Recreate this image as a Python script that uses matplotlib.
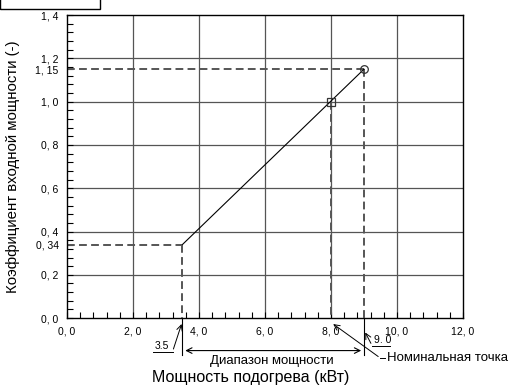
import matplotlib.pyplot as plt
import matplotlib.patches as mpatches
import numpy as np

plt.rcParams['font.family'] = ['Liberation Sans', 'DejaVu Sans']

# data
line_x = [3.5, 9.0]
line_y = [0.34, 1.15]
rated_x, rated_y = 8.0, 1.0
range_min, range_max = 3.5, 9.0

xticks = [0.0, 2.0, 4.0, 6.0, 8.0, 10.0, 12.0]
xtick_labels = ['0, 0', '2, 0', '4, 0', '6, 0', '8, 0', '10, 0', '12, 0']
yticks = [0.0, 0.2, 0.34, 0.4, 0.6, 0.8, 1.0, 1.15, 1.2, 1.4]
ytick_labels = ['0, 0', '0, 2', '0, 34', '0, 4', '0, 6', '0, 8', '1, 0', '1, 15', '1, 2', '1, 4']
grid_x = [2.0, 4.0, 6.0, 8.0, 10.0]
grid_y = [0.2, 0.4, 0.6, 0.8, 1.0, 1.2]

fig = plt.figure(figsize=(5.11, 3.87), dpi=100)
ax = fig.add_axes([0.131, 0.178, 0.775, 0.783])
ax.set_xlim(0, 12)
ax.set_ylim(0, 1.4)

gridc = '#555555'
for gx in grid_x:
    ax.axvline(gx, color=gridc, lw=0.9, zorder=1)
for gy in grid_y:
    ax.axhline(gy, color=gridc, lw=0.9, zorder=1)

dashc = '#555555'
dash = dict(color=dashc, lw=1.4, dashes=(4, 2.2), zorder=2)
# dimension guides
ax.plot([0, line_x[0]], [line_y[0], line_y[0]], **dash)
ax.plot([line_x[0], line_x[0]], [line_y[0], 0], **dash)
ax.plot([0, line_x[1]], [line_y[1], line_y[1]], **dash)
ax.plot([line_x[1], line_x[1]], [line_y[1], 0], **dash)
ax.plot([rated_x, rated_x], [rated_y, 0], **dash)

ax.plot(line_x, line_y, color='black', lw=0.8, zorder=3)
ax.plot([rated_x], [rated_y], marker='s', ms=6, mfc='none', mec='#333333', mew=0.9, zorder=4)
ax.plot([line_x[1]], [line_y[1]], marker='o', ms=5.5, mfc='none', mec='#333333', mew=0.9, zorder=4)

narrow = ['Liberation Sans Narrow', 'Liberation Sans']
ax.set_xticks(xticks)
ax.set_xticklabels(xtick_labels)
ax.set_yticks(yticks)
ax.set_yticklabels(ytick_labels)
ax.set_xticks(np.arange(0, 12.01, 0.4), minor=True)
ax.set_yticks(np.arange(0, 1.401, 0.04), minor=True)
ax.tick_params(which='both', direction='in', color='black', width=0.8)
ax.tick_params(which='major', length=4, labelsize=7.5, pad=6)
ax.tick_params(which='minor', length=4)
for lab in ax.get_xticklabels() + ax.get_yticklabels():
    lab.set_family(narrow)
for s in ax.spines.values():
    s.set_linewidth(1.0)

ax.set_xlabel('Мощность подогрева (кВт)', fontsize=11.5)
ax.xaxis.set_label_coords(0.465, -0.172)
ax.set_ylabel('Коэффициент входной мощности (-)', fontsize=10.8)
ax.yaxis.set_label_coords(-0.119, 0.5)

# range dimension below the axis
ext = dict(color='black', lw=0.8, clip_on=False)
ax.plot([range_min, range_min], [0, -0.17], **ext)
ax.plot([range_max, range_max], [0, -0.17], **ext)
ax.annotate('', xy=(range_min, -0.15), xytext=(range_max, -0.15),
            arrowprops=dict(arrowstyle='<->', lw=0.8, color='black'),
            annotation_clip=False)
ax.text((range_min + range_max) / 2 - 0.05, -0.2, 'Диапазон мощности',
        ha='center', va='center', fontsize=9.5, clip_on=False)

# 3.5 label with leader
ax.annotate('', xy=(range_min, -0.015), xytext=(3.2, -0.155),
            arrowprops=dict(arrowstyle='->', lw=0.7, color='black'),
            annotation_clip=False)
ax.text(2.65, -0.15, '3.5', fontsize=7.5, ha='left', va='bottom', family=narrow)
ax.plot([2.6, 3.2], [-0.157, -0.157], color='black', lw=0.7, clip_on=False)

# 9.0 label with leader
ax.annotate('', xy=(range_max, -0.055), xytext=(9.25, -0.128),
            arrowprops=dict(arrowstyle='->', lw=0.7, color='black'),
            annotation_clip=False)
ax.text(9.3, -0.123, '9. 0', fontsize=7.5, ha='left', va='bottom', family=narrow)
ax.plot([9.25, 9.8], [-0.128, -0.128], color='black', lw=0.7, clip_on=False)

# rated point leader
ax.annotate('', xy=(rated_x, -0.02), xytext=(9.5, -0.185),
            arrowprops=dict(arrowstyle='->', lw=0.7, color='black'),
            annotation_clip=False)
ax.plot([9.5, 9.65], [-0.185, -0.185], color='black', lw=0.7, clip_on=False)
ax.text(9.7, -0.185, 'Номинальная точка', fontsize=9.5, ha='left', va='center', clip_on=False)

# cropped title box in the corner
fig.patches.append(mpatches.Rectangle((0.0, 0.978), 0.196, 0.05, transform=fig.transFigure,
                                      fill=False, ec='black', lw=1.0))

fig.savefig('out.png', dpi=100)
